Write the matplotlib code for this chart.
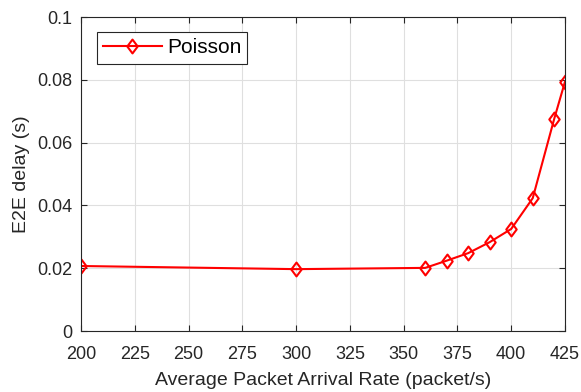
import matplotlib
matplotlib.use("Agg")
import matplotlib.pyplot as plt
from matplotlib.path import Path

rate = [200, 300, 360, 370, 380, 390, 400, 410, 420, 425]
delay = [0.0207, 0.0197, 0.0201, 0.0224, 0.0248, 0.0283, 0.0325, 0.0423, 0.0676, 0.0794]
xticks = [200, 225, 250, 275, 300, 325, 350, 375, 400, 425]
yticks = [0, 0.02, 0.04, 0.06, 0.08, 0.1]
ytick_labels = ["0", "0.02", "0.04", "0.06", "0.08", "0.1"]

diamond = Path([(0, 1), (0.75, 0), (0, -1), (-0.75, 0), (0, 1)],
               [Path.MOVETO, Path.LINETO, Path.LINETO, Path.LINETO, Path.CLOSEPOLY])

plt.rcParams['font.family'] = ['Liberation Sans', 'DejaVu Sans']
fig = plt.figure(figsize=(5.81, 3.92), dpi=100)
ax = fig.add_axes([81/581, 1-331/392, (565-81)/581, (331-17)/392])
ax.plot(rate, delay, color='red', lw=1.5, marker=diamond, markersize=10,
        markerfacecolor='none', markeredgecolor='red', markeredgewidth=1.5, label='Poisson')
ax.set_xlim(200, 425)
ax.set_ylim(0, 0.1)
ax.set_xticks(xticks)
ax.set_yticks(yticks)
ax.set_yticklabels(ytick_labels)
ax.grid(True, color='#dfdfdf', lw=0.8)
ax.set_axisbelow(True)
for s in ax.spines.values():
    s.set_color('#262626'); s.set_linewidth(0.8)
ax.tick_params(direction='in', colors='#262626', labelsize=13, length=4, top=True, right=True)
ax.tick_params(axis='x', pad=11)
ax.tick_params(axis='y', pad=6)
ax.set_xlabel('Average Packet Arrival Rate (packet/s)', fontsize=14, color='#262626', labelpad=6)
ax.set_ylabel('E2E delay (s)', fontsize=14, color='#262626', labelpad=5)
leg = ax.legend(loc='upper left', fontsize=15, fancybox=False, edgecolor='#262626',
                framealpha=1, borderpad=0.3, handlelength=2.8, handletextpad=0.25,
                borderaxespad=0, bbox_to_anchor=(16/484, (331-32)/314))
leg.get_frame().set_linewidth(0.8)
fig.savefig('out.png', dpi=100)
